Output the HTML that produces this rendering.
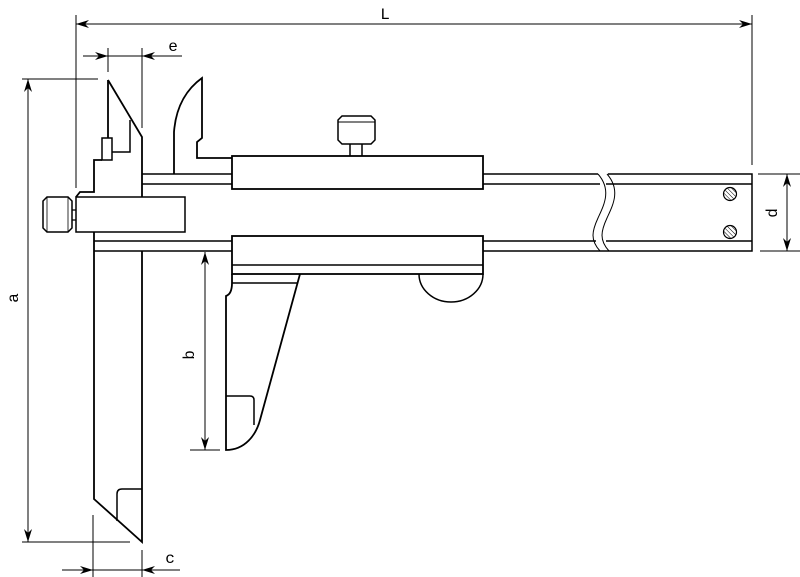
<!DOCTYPE html>
<html><head><meta charset="utf-8"><style>html,body{margin:0;padding:0;background:#fff}svg{display:block}text{font-family:"Liberation Mono",monospace;font-size:16px}</style></head>
<body>
<svg width="800" height="577" viewBox="0 0 800 577" xmlns="http://www.w3.org/2000/svg">
<defs>
<pattern id="hat" width="3" height="3" patternUnits="userSpaceOnUse" patternTransform="rotate(-45)"><line x1="0" y1="0" x2="0" y2="3" stroke="#000" stroke-width="1"/></pattern>
</defs>
<g fill="none" stroke="#000" stroke-width="1">
<!-- dimension lines -->
<line x1="76" y1="15" x2="76" y2="188"/>
<line x1="752" y1="15" x2="752" y2="165"/>
<line x1="76" y1="24" x2="752" y2="24"/>

<line x1="108" y1="48" x2="108" y2="72"/>
<line x1="142" y1="48" x2="142" y2="128"/>
<line x1="83" y1="56" x2="182" y2="56"/>

<line x1="22" y1="79" x2="98" y2="79"/>
<line x1="22" y1="542" x2="130" y2="542"/>
<line x1="28" y1="79" x2="28" y2="542"/>

<line x1="190" y1="450" x2="220" y2="450"/>
<line x1="205" y1="252" x2="205" y2="450"/>

<line x1="93" y1="515" x2="93" y2="577"/>
<line x1="142" y1="550" x2="142" y2="577"/>
<line x1="62" y1="570" x2="180" y2="570"/>

<line x1="758" y1="174" x2="800" y2="174"/>
<line x1="760" y1="251" x2="800" y2="251"/>
<line x1="787" y1="174" x2="787" y2="251"/>
</g>
<g fill="#000" stroke="none">
<!-- arrowheads -->
<path d="M76,24 l13,-4 l-4,4 l4,4 Z"/>
<path d="M752,24 l-13,-4 l4,4 l-4,4 Z"/>
<path d="M108,56 l-13,-4 l4,4 l-4,4 Z"/>
<path d="M142,56 l13,-4 l-4,4 l4,4 Z"/>
<path d="M28,79 l-4,13 l4,-4 l4,4 Z"/>
<path d="M28,542 l-4,-13 l4,4 l4,-4 Z"/>
<path d="M205,252 l-4,13 l4,-4 l4,4 Z"/>
<path d="M205,450 l-4,-13 l4,4 l4,-4 Z"/>
<path d="M93,570 l-13,-4 l4,4 l-4,4 Z"/>
<path d="M142,570 l13,-4 l-4,4 l4,4 Z"/>
<path d="M787,174 l-4,13 l4,-4 l4,4 Z"/>
<path d="M787,251 l-4,-13 l4,4 l4,-4 Z"/>
<text x="385" y="19" text-anchor="middle">L</text>
<text x="173" y="51" text-anchor="middle">e</text>
<text transform="translate(18,298) rotate(-90)" text-anchor="middle">a</text>
<text transform="translate(194,355) rotate(-90)" text-anchor="middle">b</text>
<text x="170" y="563" text-anchor="middle">c</text>
<text transform="translate(777,213) rotate(-90)" text-anchor="middle">d</text>
</g>

<g fill="none" stroke="#000" stroke-width="1.8" stroke-linejoin="miter">
<!-- beam -->
<path d="M142,174 H232 M142,184 H232 M483,174 H598 M483,184 H600 M608,174 H752 V251 H598 M94,241 H232 M94,251 H232 M483,241 H596 M483,251 H600 M606,184 H752 M606,241 H752" stroke-width="1.5"/>
<path d="M598,174 C612,190 604,205 598,218 C592,231 590,240 600,251" stroke-width="1"/>
<path d="M607,174 C621,190 613,205 607,218 C601,231 599,240 609,251" stroke-width="1"/>
<!-- screws -->
<circle cx="730" cy="194" r="6.5" fill="url(#hat)" stroke-width="1.2"/>
<circle cx="730" cy="232" r="6.5" fill="url(#hat)" stroke-width="1.2"/>

<!-- fixed jaw -->
<path d="M108,80 L142,137 V197"/>
<path d="M108,80 V138"/>
<rect x="102" y="138" width="10" height="22" stroke-width="1.5"/>
<path d="M130,120 V152 H112" stroke-width="1.5"/>
<path d="M102,160 H94 V192 H80 L76,197"/>
<rect x="76" y="197" width="109" height="35" stroke-width="1.5"/>
<path d="M72,210 H76 M72,220 H76" stroke-width="1.2"/>
<path d="M47,197 H68 L72,201 V228 L68,232 H47 L43,228 V201 Z" stroke-width="1.5"/>
<path d="M47,197 V232 M68,197 V232" stroke-width="0.8"/>
<path d="M94,232 V499 L142,542 V251"/>
<path d="M117,521 V494 Q117,489 122,489 H142" stroke-width="1.5"/>

<!-- upper inner jaw -->
<path d="M174,174 V132 C176,105 188,88 202,78 V138 L197,142 V158 H232"/>

<!-- upper slider -->
<rect x="232" y="156" width="251" height="33"/>
<path d="M350,144 V156 M362,144 V156" stroke-width="1.5"/>
<path d="M342,116 H371 L375,120 V140 L371,144 H342 L338,140 V120 Z" stroke-width="1.5"/>
<path d="M338,122 H375" stroke-width="1"/>

<!-- lower slider & jaw -->
<rect x="232" y="236" width="251" height="38"/>
<path d="M232,265 H483" stroke-width="1.5"/>
<path d="M232,274 V283 Q232,294 226,296 V450 C245,450 256,435 260,420 L300,274"/>
<path d="M232,283 H298" stroke-width="1.5"/>
<path d="M226,396 H250 Q254,396 254,400 V425" stroke-width="1.5"/>
<path d="M419,274 A32,28 0 0 0 483,274" stroke-width="1.5"/>
</g>
</svg>
</body></html>
